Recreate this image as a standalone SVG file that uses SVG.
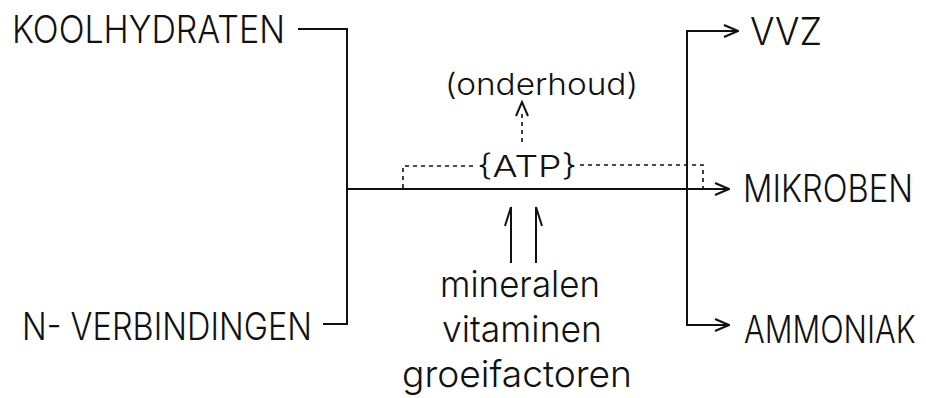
<svg xmlns="http://www.w3.org/2000/svg" width="926" height="398" viewBox="0 0 926 398">
<defs>
<style>
text{font-family:Inter,"Liberation Sans",Arial,sans-serif;font-weight:300;fill:#111}
.cap{font-size:38px}
.low{font-size:37px}
.sm{font-size:30px}
.ln{stroke:#111;stroke-width:2;fill:none}
.dot{stroke:#111;stroke-width:1.6;fill:none;stroke-dasharray:4 4}
</style>
<marker id="ah" markerUnits="userSpaceOnUse" viewBox="0 0 16 14" markerWidth="16" markerHeight="14" refX="15" refY="7" orient="auto">
<path d="M1,1 L15,7 L1,13" stroke="#111" stroke-width="2" fill="none"/>
</marker>
</defs>
<rect width="926" height="398" fill="#fff"/>
<g id="koolhydraten"><text class="cap" x="12" y="43" textLength="273" lengthAdjust="spacingAndGlyphs">KOOLHYDRATEN</text></g>
<g id="n-verbindingen"><text class="cap" x="22" y="340" textLength="290" lengthAdjust="spacingAndGlyphs">N- VERBINDINGEN</text></g>
<g id="vvz"><text class="cap" x="750" y="45" textLength="72" lengthAdjust="spacingAndGlyphs">VVZ</text></g>
<g id="mikroben"><text class="cap" transform="translate(743,202) scale(0.85,1)" x="0" y="0" textLength="200" lengthAdjust="spacingAndGlyphs">MIKROBEN</text></g>
<g id="ammoniak"><text class="cap" transform="translate(744,343) scale(0.85,1)" x="0" y="0" textLength="202" lengthAdjust="spacingAndGlyphs">AMMONIAK</text></g>
<g id="onderhoud"><text class="sm" x="445" y="95" textLength="193" lengthAdjust="spacingAndGlyphs">(onderhoud)</text></g>
<g id="atp"><text class="sm" x="477" y="177" textLength="100" lengthAdjust="spacingAndGlyphs">{ATP}</text></g>
<g id="inputs">
<text class="low" x="440" y="297" textLength="160" lengthAdjust="spacingAndGlyphs">mineralen</text>
<text class="low" x="442" y="342" textLength="160" lengthAdjust="spacingAndGlyphs">vitaminen</text>
<text class="low" x="402" y="387" textLength="230" lengthAdjust="spacingAndGlyphs">groeifactoren</text>
</g>
<g id="connectors">
<path class="ln" d="M298,29 H347 V324 H323"/>
<path class="ln" d="M347,189 H729" marker-end="url(#ah)"/>
<path class="ln" d="M738,31 H687 V325 H729" marker-end="url(#ah)"/>
<path class="ln" d="M687,31 H738" marker-end="url(#ah)"/>
<path class="dot" d="M403,188 V166 H477"/>
<path class="dot" d="M580,165 H703 V188"/>
<path class="dot" d="M522,142 V112"/>
<path class="ln" d="M516,116 L522,102 L528,116"/>
<path class="ln" d="M511,263 V207 L505,226"/>
<path class="ln" d="M536,263 V207 L542,226"/>
</g>
</svg>
